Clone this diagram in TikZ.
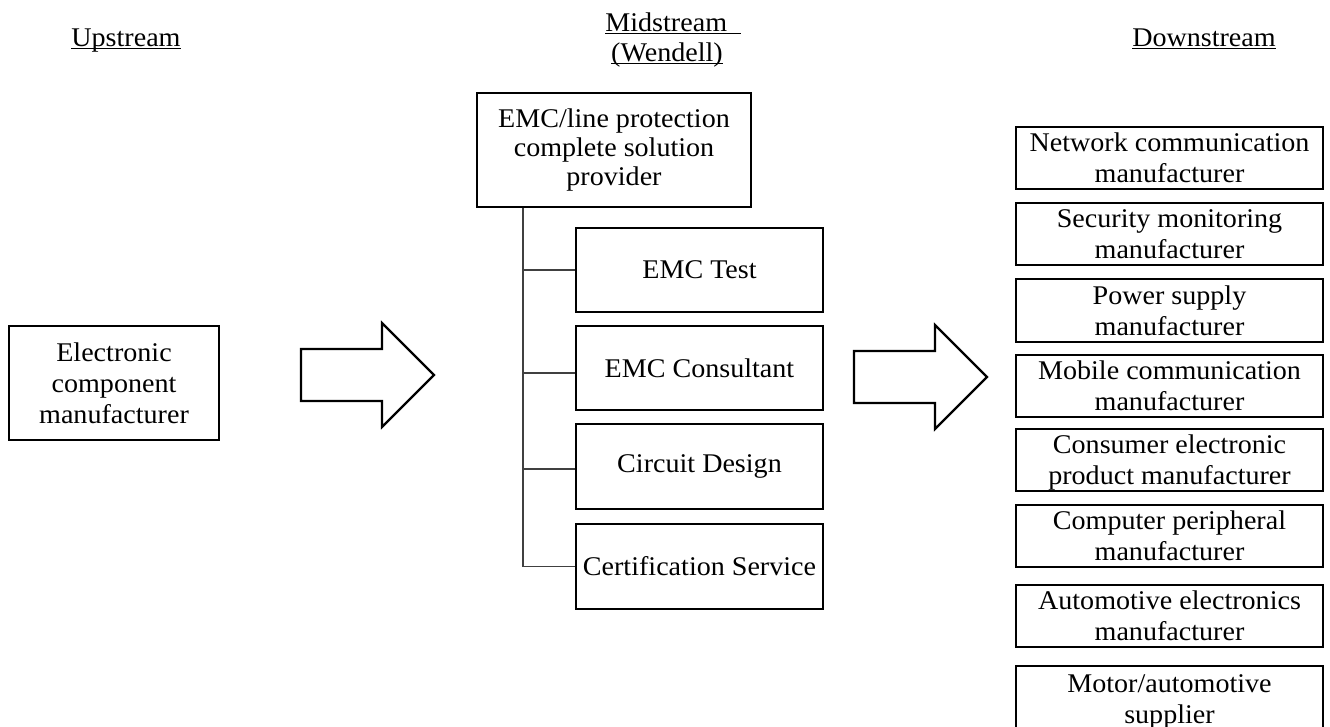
\documentclass[tikz,border=0pt]{standalone}
\usepackage{fontspec}
\setmainfont[FakeStretch=1.04]{Liberation Serif}
\begin{document}
\begin{tikzpicture}[x=1pt,y=-1pt,
  txt/.style={font=\fontsize{27}{31}\selectfont, align=center, inner sep=0pt},
  box/.style={txt, draw=black, line width=2.2pt, fill=white},
  link/.style={draw=black!75, line width=1.3pt},
  blockarrow/.style={draw=black, line width=2.2pt, fill=white, line join=miter}]
\clip (0,0) rectangle (1330,727);
\fill[white] (0,0) rectangle (1330,727);

% headings
\node[txt, anchor=base] (hup) at (126,47) {\underline{\smash{Upstream}}};
\node[txt, anchor=base] (hmid1) at (673,32) {\underline{\smash{Midstream\enspace}}};
\node[txt, anchor=base] (hmid2) at (667,62) {\underline{\smash{(Wendell)}}};
\node[txt, anchor=base] (hdown) at (1204,47) {\underline{\smash{Downstream}}};

% upstream
\node[box, minimum width=210, minimum height=114] (ecm) at (114,383)
  {Electronic\\component\\manufacturer};

% block arrows
\draw[blockarrow] (301,349) -- (382,349) -- (382,323) -- (434,375) -- (382,427) -- (382,401) -- (301,401) -- cycle;
\draw[blockarrow] (854,351) -- (935,351) -- (935,325) -- (987,377) -- (935,429) -- (935,403) -- (854,403) -- cycle;

% midstream
\node[box, font=\fontsize{27}{29}\selectfont, minimum width=274, minimum height=114] (prov) at (614,150)
  {EMC/line protection\\complete solution\\provider};
\node[box, minimum width=247, minimum height=84] (test) at (699.5,270) {EMC Test};
\node[box, minimum width=247, minimum height=84] (cons) at (699.5,368) {EMC Consultant};
\node[box, minimum width=247, minimum height=85] (circ) at (699.5,466.5) {Circuit Design};
\node[box, minimum width=247, minimum height=85] (cert) at (699.5,566.5) {Certification Service};

\coordinate (trunk) at (523,0);
\draw[link] (prov.south -| trunk) |- (cert.west);
\draw[link] ([yshift=0pt]test.west -| trunk) -- ([yshift=0pt]test.west);
\draw[link] ([yshift=-5pt]cons.west -| trunk) -- ([yshift=-5pt]cons.west);
\draw[link] ([yshift=-2.5pt]circ.west -| trunk) -- ([yshift=-2.5pt]circ.west);

% downstream
\tikzset{dbox/.style={box, text depth=0pt, minimum width=307, minimum height=62}}
\node[dbox] (net) at (1169.5,158) {Network communication\\manufacturer};
\node[dbox] (sec) at (1169.5,234) {Security monitoring\\manufacturer};
\node[dbox, minimum height=63] (pow) at (1169.5,310.5) {Power supply\\manufacturer};
\node[dbox] (mob) at (1169.5,386) {Mobile communication\\manufacturer};
\node[dbox] (con) at (1169.5,460) {Consumer electronic\\product manufacturer};
\node[dbox] (com) at (1169.5,536) {Computer peripheral\\manufacturer};
\node[dbox] (aut) at (1169.5,616) {Automotive electronics\\manufacturer};
\node[dbox, minimum height=66] (mot) at (1169.5,699) {Motor/automotive\\supplier};
\end{tikzpicture}
\end{document}
